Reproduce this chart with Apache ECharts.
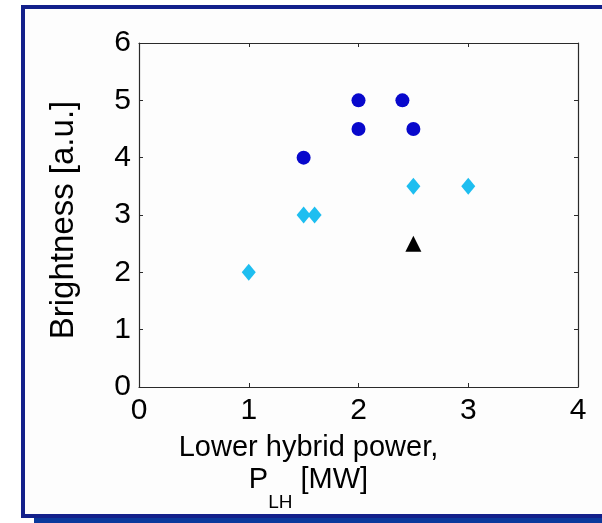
<!DOCTYPE html>
<html>
<head>
<meta charset="utf-8">
<script src="https://cdn.jsdelivr.net/npm/echarts@6/dist/echarts.min.js"></script>
<style>
  html, body { margin: 0; padding: 0; background: #ffffff; }
  #chart { width: 602px; height: 523px; }
</style>
</head>
<body>
<div id="chart"></div>
<script>
// data
var circleX = [1.5, 2, 2, 2.4, 2.5];
var circleY = [4, 5, 4.5, 5, 4.5];
var diamondX = [1, 1.5, 1.6, 2.5, 3];
var diamondY = [2, 3, 3, 3.5, 3.5];
var triangleX = [2.5];
var triangleY = [2.5];

var xMin = 0, xMax = 4, yMin = 0, yMax = 6;

function pairs(xs, ys) {
  return xs.map(function (x, i) { return [x, ys[i]]; });
}

var myChart = echarts.init(document.getElementById('chart'));
var axisColor = '#2a2a2a';
var sans = "'Liberation Sans', Arial, sans-serif";
var tickFont = { fontSize: 30, color: '#000', fontFamily: sans };

function boxAxis(pos, labels) {
  return {
    type: 'value', position: pos,
    axisLine: { show: true, onZero: false, lineStyle: { color: axisColor, width: 1.2 } },
    axisTick: { show: true, inside: true, length: 4, lineStyle: { color: axisColor } },
    axisLabel: labels ? Object.assign({ margin: 9 }, tickFont) : { show: false },
    splitLine: { show: false }
  };
}

var xBottom = Object.assign(boxAxis('bottom', true), {
  min: xMin, max: xMax, interval: 1,
  name: '{a|Lower hybrid power,}\n{a|P}{s|LH}{a| [MW]}',
  nameLocation: 'middle',
  nameGap: 46,
  nameTextStyle: {
    padding: [0, 100, 0, 0],
    rich: {
      a: { fontSize: 29, lineHeight: 32, color: '#000', fontFamily: sans, verticalAlign: 'top' },
      s: { fontSize: 19, lineHeight: 20, color: '#000', fontFamily: sans, verticalAlign: 'top', padding: [28, 0, 0, 0] }
    }
  }
});
var xTop = Object.assign(boxAxis('top', false), { min: xMin, max: xMax, interval: 1 });
var yLeft = Object.assign(boxAxis('left', true), {
  min: yMin, max: yMax, interval: 1,
  name: 'Brightness [a.u.]',
  nameLocation: 'middle',
  nameGap: 59,
  nameTextStyle: { fontSize: 33, color: '#000', fontFamily: sans, padding: [0, 10, 0, 0] }
});
yLeft.axisLabel.margin = 8;
var yRight = Object.assign(boxAxis('right', false), { min: yMin, max: yMax, interval: 1 });

var option = {
  backgroundColor: '#ffffff',
  animation: false,
  graphic: [
    { type: 'rect', z: -10, shape: { x: 34, y: 518, width: 700, height: 6 }, style: { fill: '#0b399c' } },
    { type: 'rect', z: -9, shape: { x: 23, y: 7, width: 700, height: 509 }, style: { fill: '#fdfdfd', stroke: '#13208b', lineWidth: 4 } }
  ],
  grid: { left: 139, right: 24, top: 43, bottom: 136, show: false },
  xAxis: [xBottom, xTop],
  yAxis: [yLeft, yRight],
  series: [{
    name: 'circles', type: 'scatter', xAxisIndex: 0, yAxisIndex: 0,
    symbol: 'circle', symbolSize: 14,
    itemStyle: { color: '#0808cc', opacity: 1 },
    data: pairs(circleX, circleY)
  }, {
    name: 'diamonds', type: 'scatter', xAxisIndex: 0, yAxisIndex: 0,
    symbol: 'diamond', symbolSize: [14, 17],
    itemStyle: { color: '#1ebef0', opacity: 1 },
    data: pairs(diamondX, diamondY)
  }, {
    name: 'triangle', type: 'scatter', xAxisIndex: 0, yAxisIndex: 0,
    symbol: 'triangle', symbolSize: 16,
    itemStyle: { color: '#000000', opacity: 1 },
    data: pairs(triangleX, triangleY)
  }]
};
myChart.setOption(option);
</script>
</body>
</html>
